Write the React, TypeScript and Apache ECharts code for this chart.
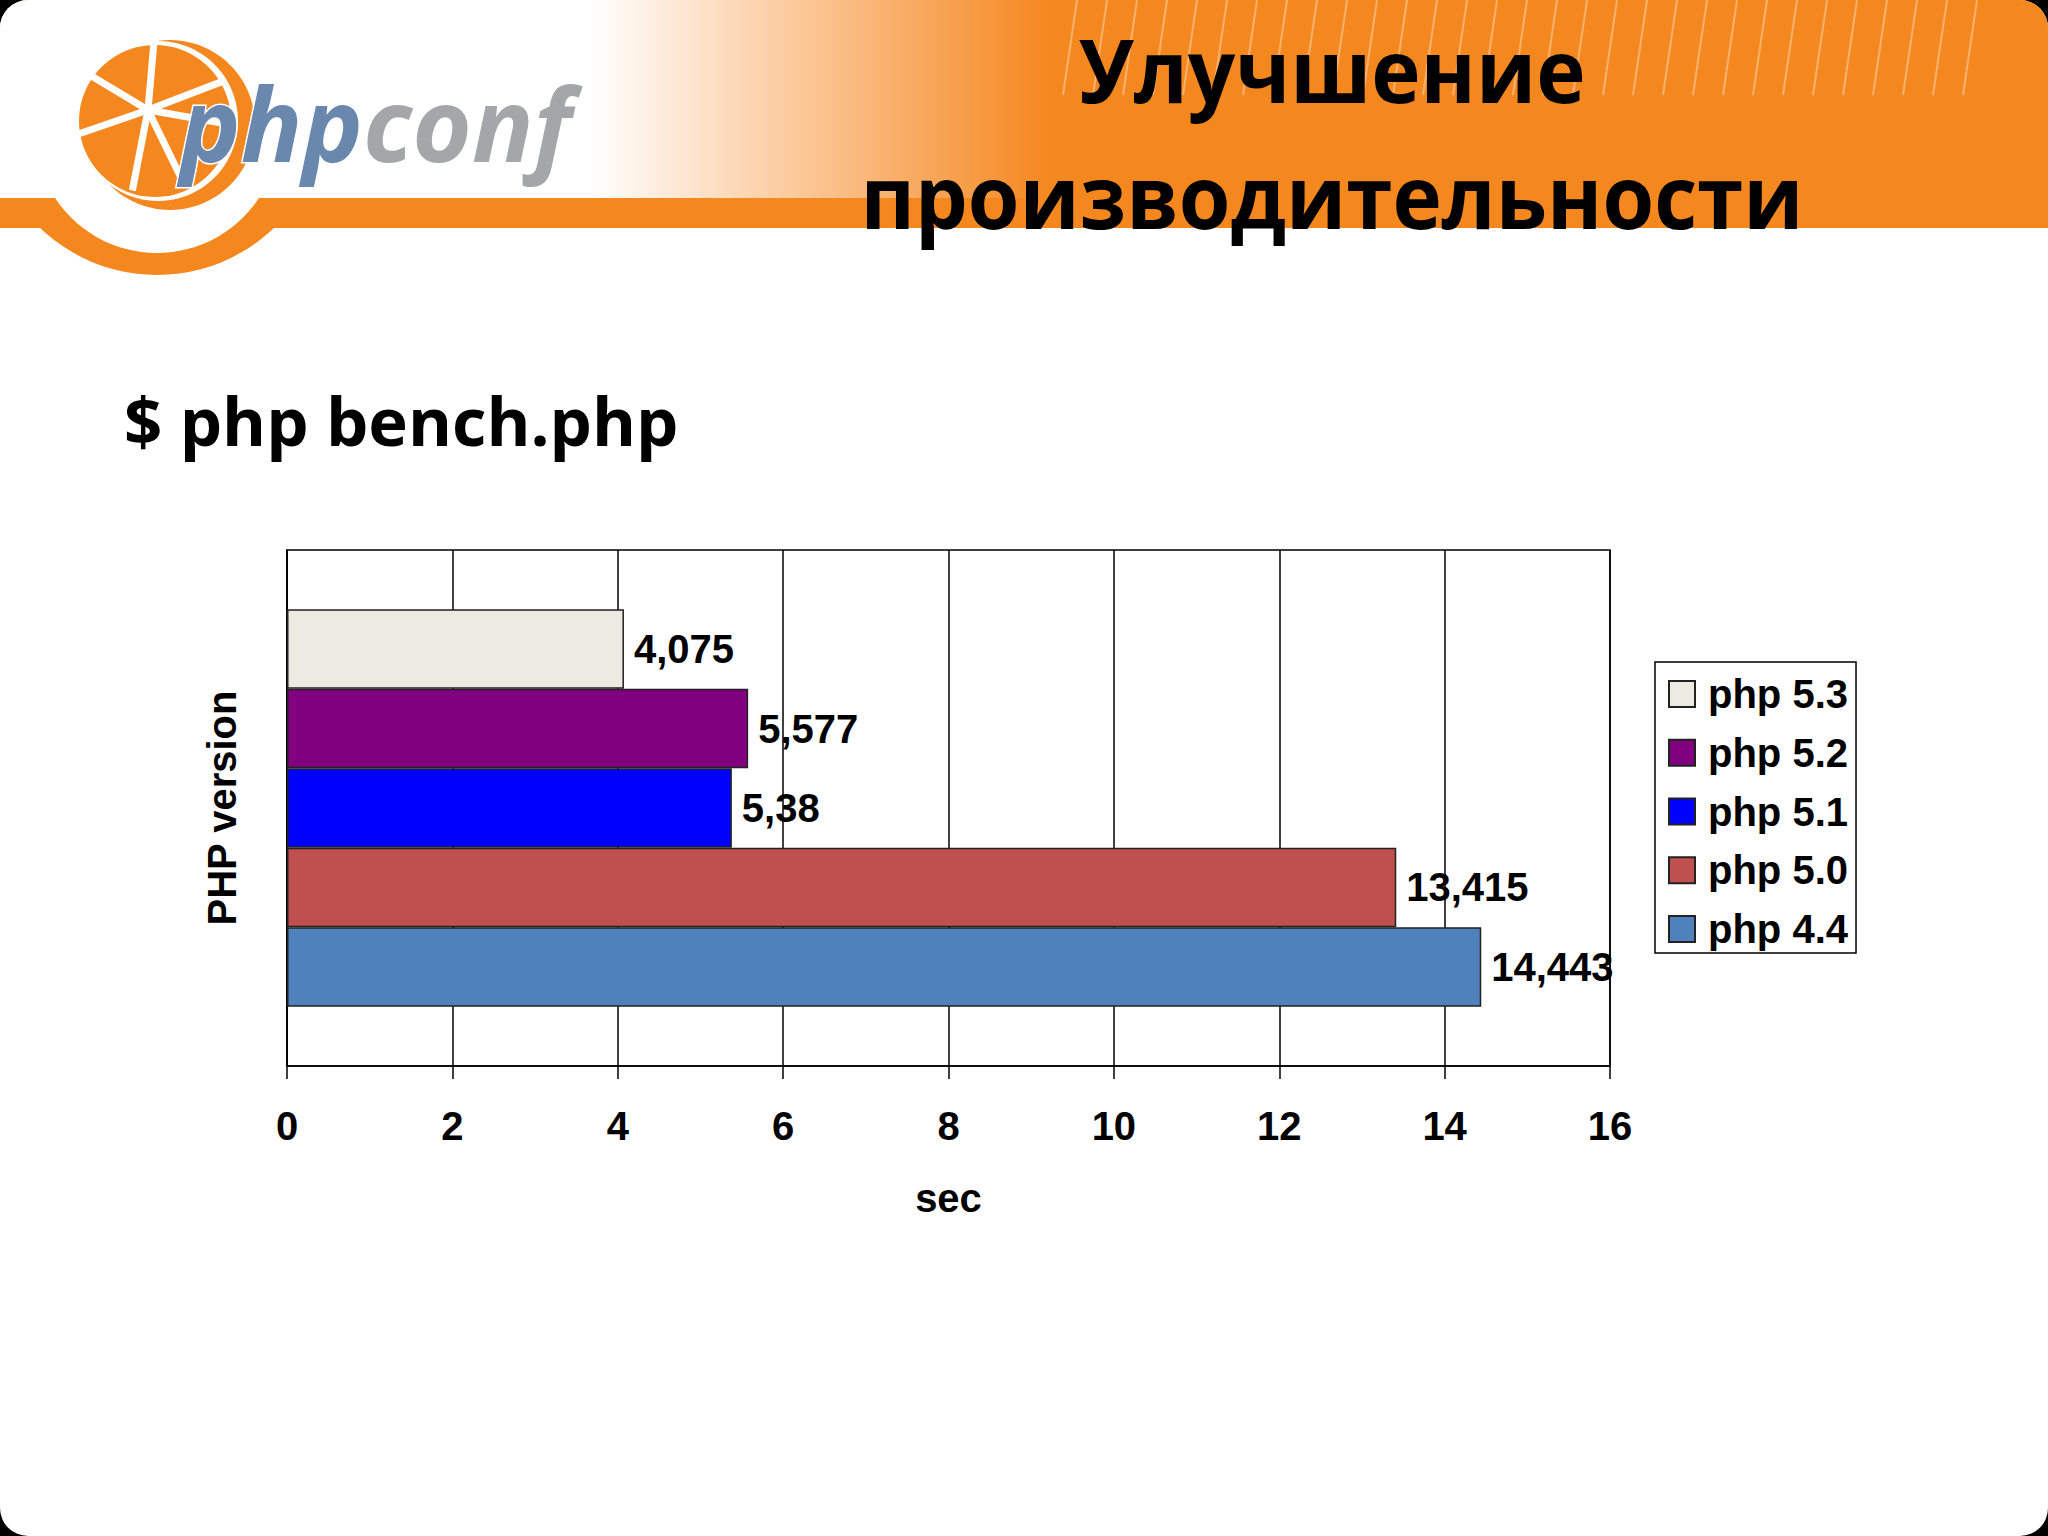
import React, { useEffect, useRef } from "react";
import * as echarts from "echarts";

// ---- data ----
const categories = [""];
const versions = ["php 5.3", "php 5.2", "php 5.1", "php 5.0", "php 4.4"];
const times = [4.075, 5.577, 5.38, 13.415, 14.443];
const barColors = ["#ECEBE2", "#800080", "#0000FF", "#C0504D", "#4F81BD"];
const xMin = 0;
const xMax = 16;
const xInterval = 2;
const titleLines = ["Улучшение", "производительности"];
const subtitle = "$ php bench.php";
const xAxisName = "sec";
const yAxisName = "PHP version";

const ORANGE = "#F5871F";
const chartFont = "'Liberation Sans', Arial, sans-serif";
const slideFont = "'Open Sans', 'Noto Sans', sans-serif";

function buildGraphics() {
  const els: any[] = [];
  // header gradient
  els.push({
    type: "rect",
    shape: { x: 560, y: 0, width: 1488, height: 200 },
    style: {
      fill: {
        type: "linear", x: 0, y: 0, x2: 1, y2: 0,
        colorStops: [
          { offset: 0.0, color: "#FFFFFF" },
          { offset: 0.02, color: "#FFFFFF" },
          { offset: 0.33, color: ORANGE },
          { offset: 1, color: ORANGE },
        ],
      },
    },
  });
  // band
  els.push({ type: "rect", shape: { x: 0, y: 198, width: 2048, height: 30 }, style: { fill: ORANGE } });
  // decorative stripes
  for (let i = 0; i < 31; i++) {
    const bx = 1063 + i * 30;
    els.push({
      type: "line",
      shape: { x1: bx + 14, y1: 0, x2: bx, y2: 95 },
      style: { stroke: "rgba(255,255,255,0.35)", lineWidth: 2 },
    });
  }
  // swoosh
  els.push({ type: "circle", shape: { cx: 157, cy: 106, r: 169 }, style: { fill: ORANGE } });
  els.push({ type: "rect", shape: { x: 0, y: 0, width: 560, height: 198 }, style: { fill: "#FFFFFF" } });
  els.push({ type: "circle", shape: { cx: 157, cy: 131, r: 122 }, style: { fill: "#FFFFFF" } });
  // fruit
  els.push({ type: "circle", shape: { cx: 170, cy: 125, r: 85 }, style: { fill: ORANGE } });
  els.push({ type: "circle", shape: { cx: 158, cy: 121, r: 80 }, style: { fill: "#FFFFFF" } });
  els.push({ type: "circle", shape: { cx: 155, cy: 121, r: 76 }, style: { fill: ORANGE } });
  const angles = [-85, -149, 161, 101, 64, 10, -21];
  angles.forEach((a) => {
    const rad = (a * Math.PI) / 180;
    els.push({
      type: "line",
      shape: { x1: 148, y1: 110, x2: 148 + 82 * Math.cos(rad), y2: 110 + 82 * Math.sin(rad) },
      style: { stroke: "#FFFFFF", lineWidth: 7 },
    });
  });
  // phpconf text
  els.push({
    type: "text",
    x: 180,
    y: 122,
    style: {
      text: "{a|php}{b|conf}",
      rich: {
        a: { fill: "#6A87AE", fontSize: 102, fontWeight: "bold", fontStyle: "italic", fontFamily: slideFont },
        b: { fill: "#A4A7AA", fontSize: 102, fontWeight: "bold", fontStyle: "italic", fontFamily: slideFont },
      },
      stroke: "#FFFFFF",
      lineWidth: 3,
      align: "left",
      verticalAlign: "middle",
    },
  });
  // title
  els.push({
    type: "text", x: 1332, y: 69, scaleX: 0.95,
    style: { text: titleLines[0], fontSize: 88, fontWeight: "bold", fontFamily: slideFont, fill: "#000", align: "center", verticalAlign: "middle" },
  });
  els.push({
    type: "text", x: 1332, y: 195, scaleX: 0.95,
    style: { text: titleLines[1], fontSize: 88, fontWeight: "bold", fontFamily: slideFont, fill: "#000", align: "center", verticalAlign: "middle" },
  });
  els.push({
    type: "text", x: 124, y: 420,
    style: { text: subtitle, fontSize: 67, fontWeight: "bold", fontFamily: slideFont, fill: "#000", align: "left", verticalAlign: "middle" },
  });
  return els;
}

export default function App() {
  const ref = useRef<HTMLDivElement>(null);
  useEffect(() => {
    if (!ref.current) return;
    const chart = echarts.init(ref.current, null, { renderer: "svg" });
    const labelStyle = { fontSize: 40, fontWeight: "bold", color: "#000", fontFamily: chartFont };
    chart.setOption({
      animation: false,
      textStyle: { fontFamily: chartFont },
      graphic: { elements: buildGraphics() },
      grid: {
        left: 287, top: 550, width: 1323, height: 516,
        show: true, borderColor: "#000", borderWidth: 1.5, backgroundColor: "transparent",
      },
      legend: {
        orient: "vertical",
        left: 1655,
        top: 662,
        data: versions,
        icon: "rect",
        itemWidth: 26,
        itemHeight: 26,
        itemGap: 18.75,
        padding: [12, 8, 4, 13],
        borderColor: "#000",
        borderWidth: 1.5,
        backgroundColor: "#fff",
        textStyle: { fontSize: 40, fontWeight: "bold", color: "#000", fontFamily: chartFont, lineHeight: 40, padding: [0, 0, 0, 8] },
      },
      xAxis: {
        type: "value",
        min: xMin, max: xMax, interval: xInterval,
        name: xAxisName, nameLocation: "middle", nameGap: 112,
        nameTextStyle: labelStyle,
        axisLine: { show: true, lineStyle: { color: "#000", width: 1.5 } },
        axisTick: { show: true, length: 13, lineStyle: { color: "#000", width: 1.5 } },
        axisLabel: { ...labelStyle, margin: 40 },
        splitLine: { show: true, lineStyle: { color: "#000", width: 1.5 } },
      },
      yAxis: {
        type: "category",
        data: categories,
        name: yAxisName, nameLocation: "middle", nameGap: 45, nameRotate: 90,
        nameTextStyle: labelStyle,
        axisLine: { show: true, lineStyle: { color: "#000", width: 1.5 } },
        axisTick: { show: false },
        axisLabel: { show: false },
        splitLine: { show: false },
      },
      series: versions.map((v, i) => ({
        type: "bar",
        name: v,
        data: [times[i]],
        barGap: "0%",
        barCategoryGap: "23%",
        itemStyle: { color: barColors[i], borderColor: "#222", borderWidth: 1.5 },
        label: {
          show: true, position: "right", distance: 10,
          formatter: (p: any) => String(p.value).replace(".", ","),
          ...labelStyle,
        },
      })),
    });
    return () => chart.dispose();
  }, []);
  return (
    <div style={{ position: "absolute", left: 0, top: 0, width: 2048, height: 1536, background: "#000" }}>
      <div ref={ref} style={{ width: 2048, height: 1536, background: "#fff", borderRadius: 28, overflow: "hidden" }} />
    </div>
  );
}
